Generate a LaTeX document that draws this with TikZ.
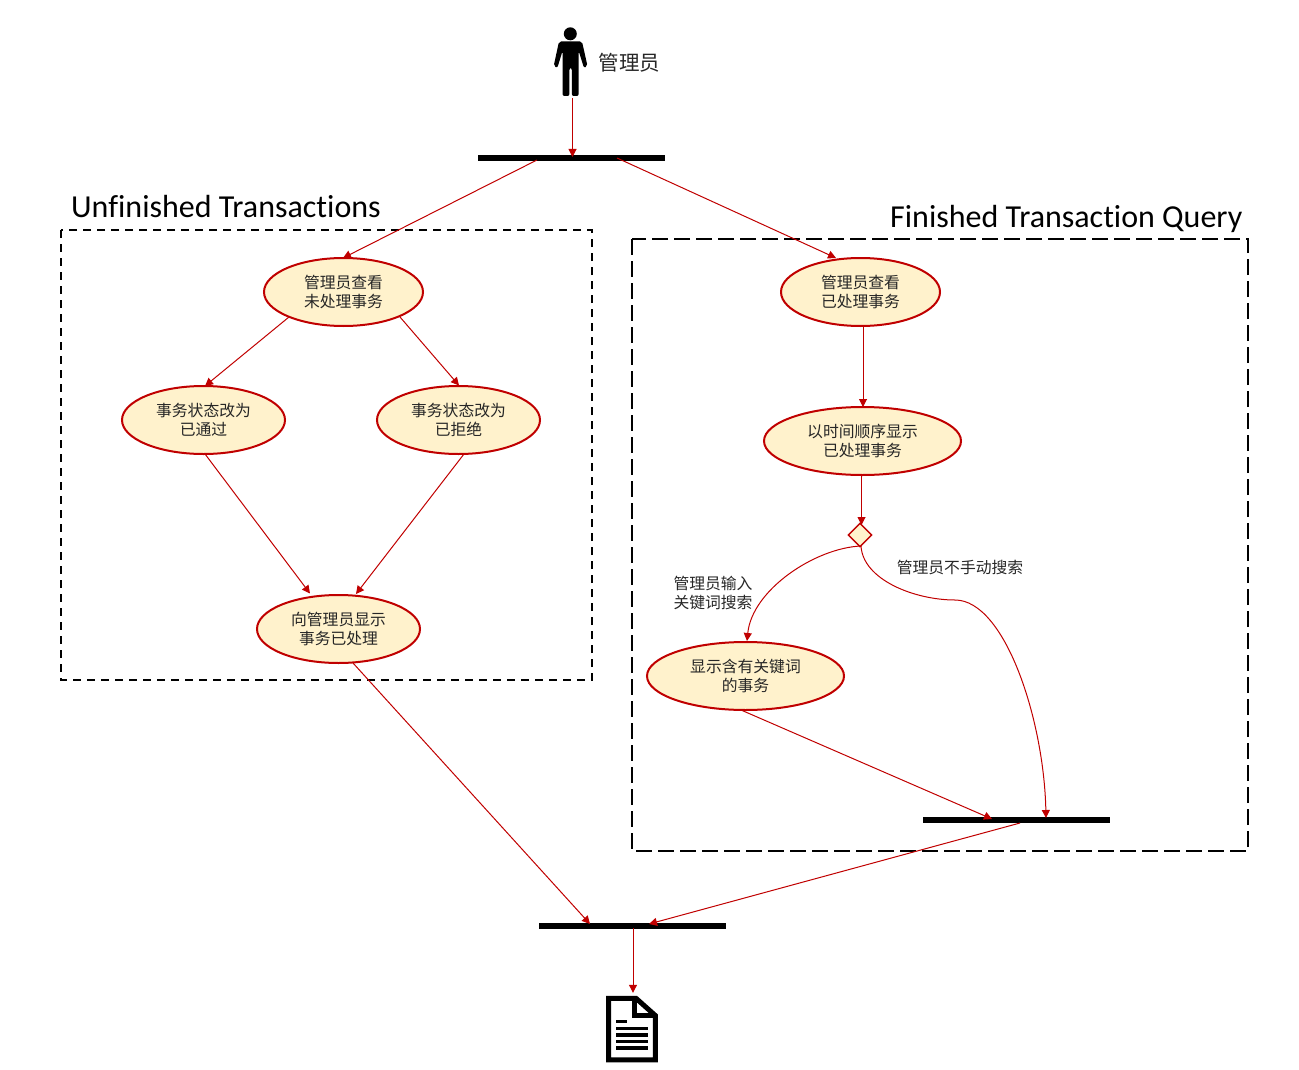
\documentclass[tikz,border=0pt]{standalone}
\usepackage{fontspec}
\setmainfont[RawFeature={-liga;-clig}]{Carlito}
\newfontfamily\cjk{Noto Sans CJK SC}
\usetikzlibrary{shapes.geometric,arrows.meta}
\definecolor{lred}{HTML}{C00000}
\definecolor{lfill}{HTML}{FFF2CC}
\definecolor{ltext}{HTML}{262626}
\tikzset{
  act/.style={draw=lred,fill=lfill,line width=2pt,ellipse,inner sep=0pt,minimum width=#1,minimum height=68pt,align=center,font=\cjk\fontsize{15.8}{19}\selectfont,text=ltext},
  edge/.style={draw=lred,line width=1pt,-{Triangle[length=8pt,width=8pt]}},
  bar/.style={fill=black,draw=none,minimum width=187pt,minimum height=6pt,inner sep=0pt},
  regionA/.style={draw=black,line width=1.6pt,dash pattern=on 8pt off 6pt},
  regionB/.style={draw=black,line width=1.6pt,dash pattern=on 16pt off 6pt},
  title/.style={font=\fontsize{32}{36}\selectfont,anchor=base west,inner sep=0pt},
  lab/.style={font=\cjk\fontsize{15.8}{19}\selectfont,align=center,text=ltext,inner sep=0pt},
}
\begin{document}
\begin{tikzpicture}[x=1pt,y=-1pt]
\useasboundingbox (0,0) rectangle (1299,1070);
\draw[regionA] (61,230) rectangle (592,680);
\draw[regionB] (632,239) rectangle (1248,851);
\node[title] (t1) at (71,217) {Unfinished Transactions};
\node[title] (t2) at (890,227) {Finished Transaction Query};
% person
\fill (570.3,33.8) circle (6.5pt);
\fill[rounded corners=2pt] (559,41.5) -- (582,41.5) -- (587.5,66) -- (584,68) -- (578.7,51) -- (578.7,96) -- (571.8,96) -- (571.8,68) -- (569.4,68) -- (569.4,96) -- (562.5,96) -- (562.5,51) -- (557.3,68) -- (553.7,66) -- cycle;
\coordinate (pfoot) at (572.5,98);
\node[lab,anchor=west,font=\cjk\fontsize{20.5}{23}\selectfont] (who) at (598.5,62.5) {管理员};
\node[bar] (b1) at (571.5,158) {};
\node[bar] (b2) at (1016.5,820) {};
\node[bar] (b3) at (632.5,926) {};
\node[act=159pt] (a) at (343.5,292) {管理员查看\\未处理事务};
\node[act=163pt] (b) at (203.5,420) {事务状态改为\\已通过};
\node[act=163pt] (c) at (458.5,420) {事务状态改为\\已拒绝};
\node[act=163pt] (d) at (338.5,629) {向管理员显示\\事务已处理};
\node[act=159pt] (e) at (860.5,292) {管理员查看\\已处理事务};
\node[act=197pt] (f) at (862.5,441) {以时间顺序显示\\已处理事务};
\node[act=197pt] (g) at (745.5,676) {显示含有关键词\\的事务};
\node[diamond,draw=lred,fill=lfill,line width=1.4pt,minimum width=24pt,minimum height=24pt,inner sep=0pt] (dm) at (860,535) {};
\node[lab] (l1) at (713,593) {管理员输入\\关键词搜索};
\node[lab] (l2) at (960,567) {管理员不手动搜索};
% document icon
\draw[line width=5pt,miter limit=10,fill=white] (608.5,998.3) -- (636,998.3) -- (655.3,1015.5) -- (655.3,1059.8) -- (608.5,1059.8) -- cycle;
\draw[line width=4.5pt] (634.5,998.3) -- (634.5,1015.5) -- (655.3,1015.5);
\node[minimum size=0pt,inner sep=0pt] (docn) at (633,993) {};
\foreach \yy/\xe in {1021.7/627,1028.5/648,1035/648,1041.7/648,1048/648} \fill (616,\yy-1.7) rectangle (\xe,\yy+1.7);
% connectors
\draw[edge] (pfoot) -- (572.5,157) coordinate (n1);
\coordinate (o1) at (537,160); \coordinate (o2) at (617,158);
\coordinate (i1) at (343,258); \coordinate (i2) at (836,258);
\draw[edge] (o1) -- (i1);
\draw[edge] (o2) -- (i2);
\coordinate (ab) at (289,317); \coordinate (ba) at (205,386);
\coordinate (ac) at (400,317); \coordinate (ca) at (459,385.5);
\draw[edge] (ab) -- (ba);
\draw[edge] (ac) -- (ca);
\coordinate (bd) at (205,454); \coordinate (db) at (310,593.5);
\coordinate (cd) at (464,454); \coordinate (dc) at (356,594);
\draw[edge] (bd) -- (db);
\draw[edge] (cd) -- (dc);
\coordinate (d3) at (353,663); \coordinate (b3a) at (590,924);
\draw[edge] (d3) -- (b3a);
\coordinate (ef) at (863,326); \coordinate (fe) at (863,407);
\draw[edge] (ef) -- (fe);
\coordinate (fd) at (861.5,475); \coordinate (df) at (861.5,525);
\draw[edge] (fd) -- (df);
\coordinate (dg) at (861,546); \coordinate (gd) at (747,641);
\draw[edge] (dg) .. controls (815,548) and (752,590) .. (gd);
\coordinate (m) at (955,600); \coordinate (b2a) at (1046,818);
\draw[draw=lred,line width=1pt] (dg) .. controls (863,580) and (915,600) .. (m);
\draw[edge] (m) .. controls (1005,600) and (1044,720) .. (b2a);
\coordinate (g2) at (741,710); \coordinate (b2b) at (992,819);
\draw[edge] (g2) -- (b2b);
\coordinate (b2c) at (1020,823); \coordinate (b3b) at (649,924);
\draw[edge] (b2c) -- (b3b);
\coordinate (b3c) at (633,928);
\draw[edge] (b3c) -- (docn);
\end{tikzpicture}
\end{document}
